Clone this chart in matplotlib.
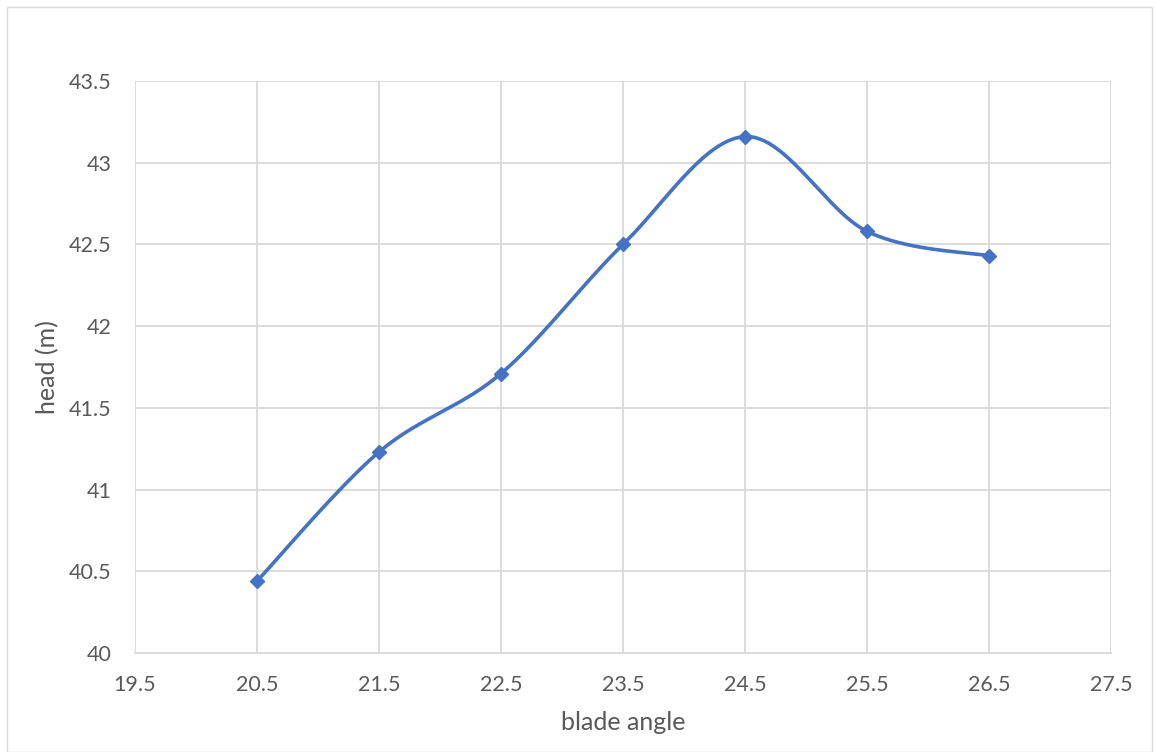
import numpy as np
import matplotlib
matplotlib.use("Agg")
import matplotlib.pyplot as plt
from matplotlib.patches import Rectangle

blade_angle = [20.5, 21.5, 22.5, 23.5, 24.5, 25.5, 26.5]
head_m = [40.44, 41.23, 41.71, 42.50, 43.16, 42.58, 42.43]
x_ticks = [19.5, 20.5, 21.5, 22.5, 23.5, 24.5, 25.5, 26.5, 27.5]
y_ticks = [40, 40.5, 41, 41.5, 42, 42.5, 43, 43.5]

LINE = "#4472C4"
TEXT = "#595959"
GRID = "#D9D9D9"
plt.rcParams["font.family"] = ["Lato", "DejaVu Sans"]


def smooth_curve(xs, ys, n=60):
    """Cubic Bezier smoothing through every point (Catmull-Rom style)."""
    p = np.column_stack([xs, ys]).astype(float)
    ext = np.vstack([p[0], p, p[-1]])
    out = []
    t = np.linspace(0, 1, n)[:, None]
    for i in range(len(p) - 1):
        p0, p3 = ext[i + 1], ext[i + 2]
        c1 = p0 + (ext[i + 2] - ext[i]) / 6.0
        c2 = p3 - (ext[i + 3] - ext[i + 1]) / 6.0
        seg = ((1 - t) ** 3) * p0 + 3 * ((1 - t) ** 2) * t * c1 \
            + 3 * (1 - t) * t ** 2 * c2 + t ** 3 * p3
        out.append(seg if i == 0 else seg[1:])
    c = np.vstack(out)
    return c[:, 0], c[:, 1]


fig = plt.figure(figsize=(11.54, 7.52), dpi=100)
ax = fig.add_axes([135 / 1154, 1 - 653 / 752, (1111 - 135) / 1154, (653 - 81) / 752])

sx, sy = smooth_curve(blade_angle, head_m)
ax.plot(sx, sy, color=LINE, lw=2.6, solid_capstyle="round", zorder=3)
ax.plot(blade_angle, head_m, linestyle="none", marker="D", ms=7.5,
        color=LINE, zorder=4)

ax.set_xlim(19.5, 27.5)
ax.set_ylim(40, 43.5)
ax.set_xticks(x_ticks)
ax.set_xticklabels([f"{v:g}" for v in x_ticks])
ax.set_yticks(y_ticks)
ax.set_yticklabels([f"{v:g}" for v in y_ticks])
ax.grid(True, color=GRID, lw=1.3)
ax.set_axisbelow(True)
for side in ["top", "right", "left"]:
    ax.spines[side].set_visible(False)
ax.spines["bottom"].set_color(GRID)
ax.spines["bottom"].set_linewidth(1.3)
ax.tick_params(length=0, labelsize=15.5, colors=TEXT)
ax.tick_params(axis="x", pad=16)
ax.tick_params(axis="y", pad=17)

ax.set_xlabel("blade angle", fontsize=18, color=TEXT, labelpad=11)
ax.set_ylabel("head (m)", fontsize=18, color=TEXT, labelpad=7)

fig.patches.append(Rectangle((7 / 1154, 0), (1152 - 7) / 1154, 1 - 7 / 752,
                             transform=fig.transFigure, fill=False,
                             edgecolor="#D9D9D9", lw=1.0))

fig.savefig("out.png", dpi=100, facecolor="white")
